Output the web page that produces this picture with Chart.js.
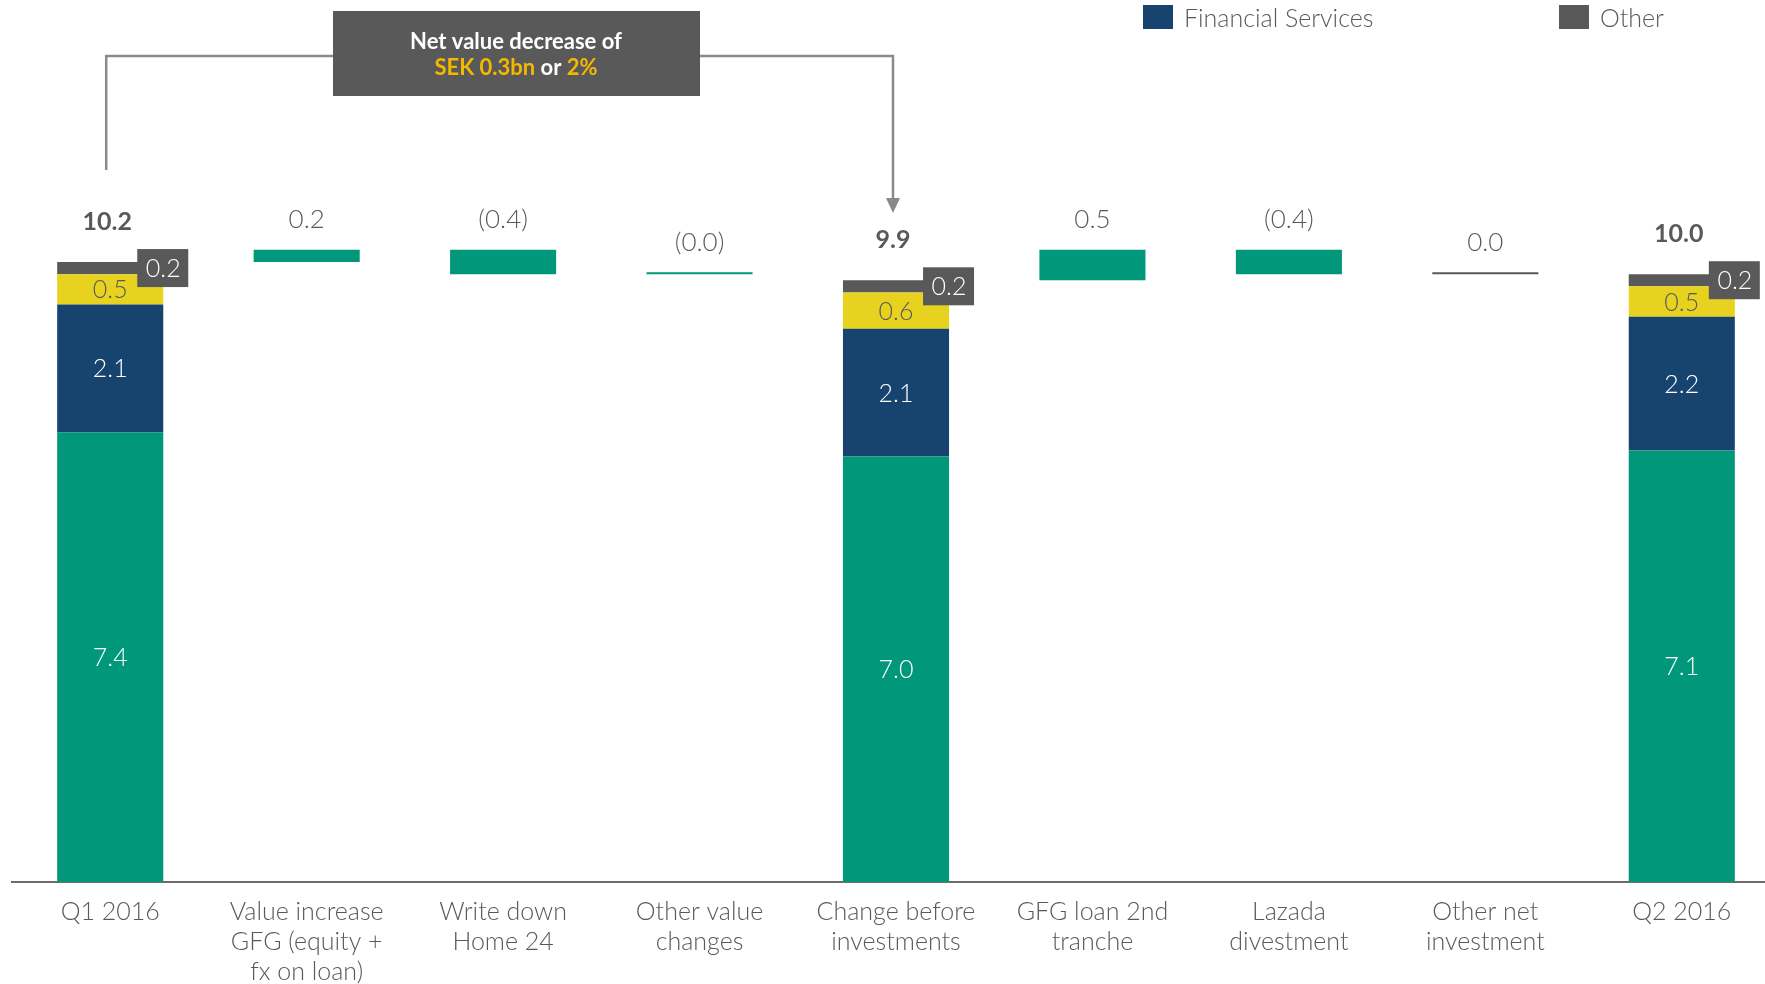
<!DOCTYPE html>
<html lang="en">
<head>
<meta charset="UTF-8">
<script src="https://cdn.jsdelivr.net/npm/chart.js"></script>
<style>
    html, body { margin: 0; padding: 0; overflow: hidden; background: #fff; }
    #wrap { width: 1780px; height: 984px; }
</style>
<title>Net value bridge Q1-Q2 2016</title>
</head>
<body>
<div id="wrap"><canvas id="bridgeChart"></canvas></div>

<script>
    // categories (multi-line tick labels)
    const categories = [
        ['Q1 2016'],
        ['Value increase', 'GFG (equity +', 'fx on loan)'],
        ['Write down', 'Home 24'],
        ['Other value', 'changes'],
        ['Change before', 'investments'],
        ['GFG loan 2nd', 'tranche'],
        ['Lazada', 'divestment'],
        ['Other net', 'investment'],
        ['Q2 2016']
    ];

    // stacked total columns, SEK bn (null = step column)
    const onlineRetail      = [7.4, null, null, null, 7.0, null, null, null, 7.1];
    const financialServices = [2.1, null, null, null, 2.1, null, null, null, 2.2];
    const marketplaces      = [0.5, null, null, null, 0.6, null, null, null, 0.5];
    const other             = [0.2, null, null, null, 0.2, null, null, null, 0.2];
    const totalLabels       = ['10.2', '', '', '', '9.9', '', '', '', '10.0'];

    // waterfall steps, SEK bn
    const steps      = [null, 0.2, -0.4, -0.0, null, 0.5, -0.4, 0.0, null];
    const stepLabels = ['', '0.2', '(0.4)', '(0.0)', '', '0.5', '(0.4)', '0.0', ''];

    const GREEN = '#00977A';
    const BLUE = '#17446F';
    const YELLOW = '#E7D31F';
    const GREY = '#595959';
    const TEXT = '#595959';

    // floating ranges for the step bars, running on from the last total
    let running = 0;
    const stepBars = steps.map((s, i) => {
        if (s === null) {
            running = onlineRetail[i] + financialServices[i] + marketplaces[i] + other[i];
            return null;
        }
        const from = running;
        running = running + s;
        return [from, running];
    });
    const stepColors = steps.map((s, i) => i === 7 ? GREY : GREEN);

    const FONT = 'Lato';

    const labelPlugin = {
        id: 'bridgeLabels',
        afterDatasetsDraw(chart) {
            const ctx = chart.ctx;
            ctx.save();
            ctx.textAlign = 'center';
            ctx.textBaseline = 'middle';

            // values inside the segments
            const inner = [['#ffffff', 0], ['#ffffff', 1], [TEXT, 2]];
            inner.forEach(([color, di]) => {
                const meta = chart.getDatasetMeta(di);
                const data = chart.data.datasets[di].data;
                meta.data.forEach((el, i) => {
                    if (data[i] === null) return;
                    ctx.fillStyle = color;
                    ctx.font = '300 25px ' + FONT;
                    ctx.fillText(data[i].toFixed(1), el.x, (el.y + el.base) / 2 + 1);
                });
            });

            // "other" value in a tag at the right edge + total on top
            const oMeta = chart.getDatasetMeta(3);
            oMeta.data.forEach((el, i) => {
                if (other[i] === null) return;
                const cx = el.x + el.width / 2 - 1;
                const cy = (el.y + el.base) / 2;
                ctx.fillStyle = GREY;
                ctx.fillRect(cx - 25, cy - 19, 51, 38);
                ctx.fillStyle = '#ffffff';
                ctx.font = '300 25px ' + FONT;
                ctx.fillText(other[i].toFixed(1), cx + 1, cy + 1);

                ctx.fillStyle = TEXT;
                ctx.font = 'bold 25px ' + FONT;
                ctx.fillText(totalLabels[i], el.x - 3, el.y - 40);
            });

            // step labels
            const sMeta = chart.getDatasetMeta(4);
            sMeta.data.forEach((el, i) => {
                if (steps[i] === null) return;
                const top = Math.min(el.y, el.base);
                ctx.fillStyle = TEXT;
                ctx.font = '300 26px ' + FONT;
                ctx.fillText(stepLabels[i], el.x, top - 30);
            });

            ctx.restore();
        }
    };

    const calloutPlugin = {
        id: 'callout',
        afterDraw(chart) {
            const ctx = chart.ctx;
            const x = chart.scales.x;
            const xl = x.getPixelForValue(0) - 4;
            const xr = x.getPixelForValue(4) - 3;
            const lineY = 56;
            ctx.save();
            ctx.strokeStyle = '#8a8a8a';
            ctx.lineWidth = 2.5;
            ctx.beginPath();
            ctx.moveTo(xl, 170);
            ctx.lineTo(xl, lineY);
            ctx.lineTo(333, lineY);
            ctx.moveTo(700, lineY);
            ctx.lineTo(xr, lineY);
            ctx.lineTo(xr, 200);
            ctx.stroke();
            ctx.fillStyle = '#8a8a8a';
            ctx.beginPath();
            ctx.moveTo(xr - 7, 198);
            ctx.lineTo(xr + 7, 198);
            ctx.lineTo(xr, 213);
            ctx.closePath();
            ctx.fill();

            // box
            ctx.fillStyle = GREY;
            ctx.fillRect(333, 11, 367, 85);
            ctx.textBaseline = 'middle';
            ctx.font = 'bold 22px ' + FONT;
            ctx.textAlign = 'center';
            ctx.fillStyle = '#ffffff';
            ctx.fillText('Net value decrease of', 516, 42);
            const parts = [['SEK 0.3bn', '#F5B800'], [' or ', '#ffffff'], ['2%', '#F5B800']];
            const w = parts.reduce((a, p) => a + ctx.measureText(p[0]).width, 0);
            let px = 516 - w / 2;
            ctx.textAlign = 'left';
            parts.forEach(([t, c]) => {
                ctx.fillStyle = c;
                ctx.fillText(t, px, 68);
                px += ctx.measureText(t).width;
            });

            // legend (the two visible entries)
            const legend = [['Financial Services', BLUE, 1143], ['Other', GREY, 1559]];
            ctx.font = '300 25px ' + FONT;
            legend.forEach(([name, color, lx]) => {
                ctx.fillStyle = color;
                ctx.fillRect(lx, 5, 30, 24);
                ctx.fillStyle = TEXT;
                ctx.fillText(name, lx + 41, 19);
            });
            ctx.restore();
        }
    };

    const ctx = document.getElementById('bridgeChart').getContext('2d');
    new Chart(ctx, {
        type: 'bar',
        data: {
            labels: categories,
            datasets: [
                { label: 'Online Retail', data: onlineRetail, backgroundColor: GREEN, stack: 'total' },
                { label: 'Financial Services', data: financialServices, backgroundColor: BLUE, stack: 'total' },
                { label: 'Marketplaces', data: marketplaces, backgroundColor: YELLOW, stack: 'total' },
                { label: 'Other', data: other, backgroundColor: GREY, stack: 'total' },
                { label: 'Change', data: stepBars, backgroundColor: stepColors, stack: 'steps', grouped: false, minBarLength: 2 }
            ]
        },
        options: {
            responsive: true,
            maintainAspectRatio: false,
            animation: false,
            barPercentage: 0.54,
            categoryPercentage: 1.0,
            layout: { padding: { left: 12, right: 0, top: 31, bottom: 0 } },
            scales: {
                x: {
                    stacked: true,
                    grid: { display: false, drawTicks: false },
                    border: { display: true, color: '#6d6d6d', width: 2 },
                    ticks: {
                        color: TEXT,
                        padding: 15,
                        maxRotation: 0,
                        autoSkip: false,
                        font: { family: FONT, size: 25, weight: '300', lineHeight: 1.2 }
                    },
                    afterFit(scale) { scale.height = 102; }
                },
                y: {
                    stacked: true,
                    display: false,
                    min: 0,
                    max: 14
                }
            },
            plugins: {
                legend: { display: false },
                tooltip: { enabled: false }
            }
        },
        plugins: [labelPlugin, calloutPlugin]
    });
</script>
</body>
</html>
